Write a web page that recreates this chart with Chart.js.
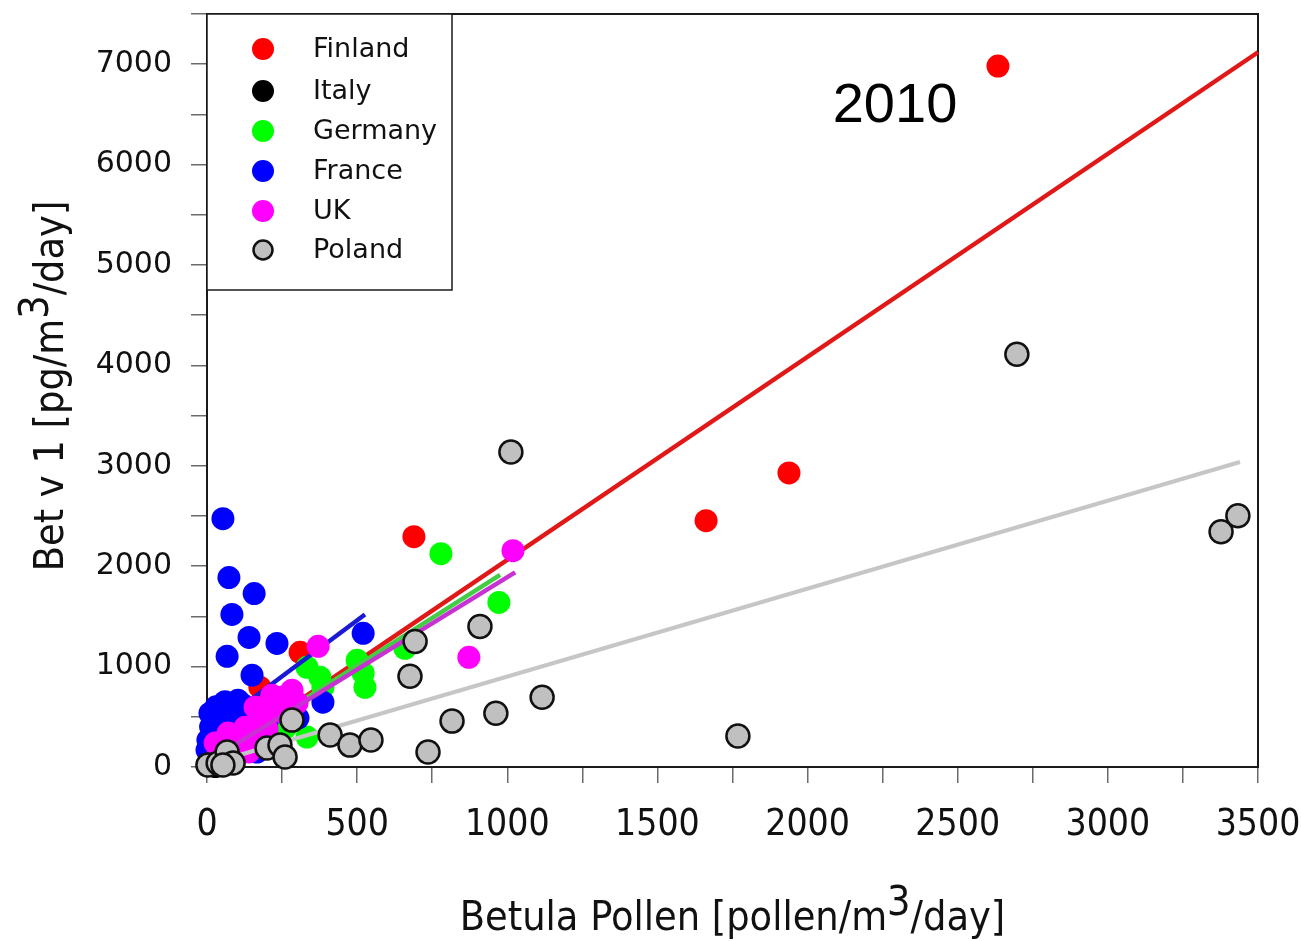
<!DOCTYPE html>
<html>
<head>
<meta charset="utf-8">
<script src="https://cdn.jsdelivr.net/npm/chart.js@4.4.1/dist/chart.umd.min.js"></script>
<style>
  html, body { margin: 0; padding: 0; background: #ffffff; }
  #wrap { width: 1301px; height: 941px; }
</style>
</head>
<body>
<div id="wrap"><canvas id="chart" width="1301" height="941"></canvas></div>
<script>
// Betula pollen vs. Bet v 1 allergen, 2010 season, by country
const finlandPollen = [2634, 1938, 1662, 689, 310, 176, 190, 110, 60, 20];
const finlandBetv1  = [6981, 2929, 2453, 2294, 1142, 795, 520, 330, 150, 50];

const italyPollen = [5, 18, 35, 12, 50, 28];
const italyBetv1  = [15, 40, 20, 60, 30, 5];

const germanyPollen = [779, 972, 500, 520, 526, 333, 376, 386, 659, 333, 260, 200, 230, 120, 60, 30];
const germanyBetv1  = [2125, 1639, 1063, 934, 794, 993, 894, 794, 1182, 298, 387, 250, 420, 180, 90, 40];

const francePollen = [53, 73, 157, 83, 140, 233, 67, 150, 520, 386, 43, 103, 160, 70, 27, 127, 3, 0, 166, 303,
                      10, 120, 180, 90, 40, 20, 260, 30, 60, 100, 150, 200, 50, 110, 140, 170, 80, 30, 12];
const franceBetv1  = [2473, 1887, 1728, 1519, 1291, 1231, 1102, 914, 1331, 645, 566, 665, 566, 497, 437, 437, 268, 169, 149, 487,
                      536, 620, 520, 350, 200, 100, 600, 600, 650, 560, 500, 450, 350, 300, 250, 180, 120, 50, 400];

const ukPollen = [1019, 872, 370, 283, 216, 160, 183, 70, 127, 27, 103, 230, 90, 50, 10, 140, 40, 60, 150, 200, 250, 300, 255];
const ukBetv1  = [2155, 1092, 1202, 765, 715, 596, 497, 338, 397, 238, 268, 600, 200, 120, 30, 150, 150, 250, 300, 380, 550, 640, 700];

const polandPollen = [3, 37, 67, 87, 53, 200, 243, 260, 283, 410, 476, 546, 736, 816, 962, 1116, 676, 693, 909, 1012, 1768, 2697, 3377, 3433];
const polandBetv1  = [20, 40, 149, 40, 20, 189, 218, 99, 467, 318, 218, 268, 149, 457, 536, 695, 904, 1251, 1400, 3138, 308, 4111, 2344, 2502];

// regression line end points per country
const finlandFitX = [10, 3500],  finlandFitY = [62, 7119];
const germanyFitX = [40, 976],   germanyFitY = [136, 1914];
const franceFitX  = [140, 526],  franceFitY  = [658, 1519];
const ukFitX      = [30, 1026],  ukFitY      = [105, 1938];
const polandFitX  = [0, 3440],   polandFitY  = [25, 3038];

const countries = ['Finland', 'Italy', 'Germany', 'France', 'UK', 'Poland'];
const yearLabel = '2010';

const xTitle = ['Betula Pollen [pollen/m', '3', '/day]'];
const yTitle = ['Bet v 1 [pg/m', '3', '/day]'];

const pairs = (xs, ys) => xs.map((x, i) => ({ x: x, y: ys[i] }));

function pointSet(label, xs, ys, fill, border, bw, order) {
  return {
    label: label,
    data: pairs(xs, ys),
    backgroundColor: fill,
    borderColor: border,
    borderWidth: bw,
    pointRadius: 11.5,
    pointHoverRadius: 11.5,
    showLine: false,
    clip: false,
    order: order
  };
}
function fitSet(xs, ys, color, width, order) {
  return {
    label: '',
    isFit: true,
    data: pairs(xs, ys),
    borderColor: color,
    backgroundColor: color,
    borderWidth: width,
    pointRadius: 0,
    showLine: true,
    fill: false,
    clip: false,
    order: order
  };
}

// higher order is painted first: each country's markers, then its fit line
const datasets = [
  pointSet(countries[0], finlandPollen, finlandBetv1, '#ff0000', '#ff0000', 0, 11),
  pointSet(countries[1], italyPollen, italyBetv1, '#000000', '#000000', 0, 9),
  pointSet(countries[2], germanyPollen, germanyBetv1, '#00ff00', '#00ff00', 0, 8),
  pointSet(countries[3], francePollen, franceBetv1, '#0000ff', '#0000ff', 0, 6),
  pointSet(countries[4], ukPollen, ukBetv1, '#ff00ff', '#ff00ff', 0, 4),
  pointSet(countries[5], polandPollen, polandBetv1, '#c0c0c0', '#111111', 2.5, 1),
  fitSet(finlandFitX, finlandFitY, '#e01818', 4.5, 10),
  fitSet(germanyFitX, germanyFitY, '#44cc44', 4.5, 7),
  fitSet(franceFitX, franceFitY, '#1a1ad6', 4.5, 5),
  fitSet(ukFitX, ukFitY, '#c832d2', 4.5, 3),
  fitSet(polandFitX, polandFitY, '#c6c6c6', 4, 2)
];

// frame round the plot area, drawn beneath the markers
const framePlugin = {
  id: 'frame',
  beforeDatasetsDraw(chart) {
    const a = chart.chartArea, ctx = chart.ctx;
    ctx.save();
    ctx.strokeStyle = '#1a1a1a';
    ctx.lineWidth = 2;
    ctx.strokeRect(a.left, a.top, a.right - a.left, a.bottom - a.top);
    ctx.restore();
  }
};

// axis titles with a raised "3", legend box and year label
const textPlugin = {
  id: 'texts',
  afterDraw(chart) {
    const ctx = chart.ctx, a = chart.chartArea;
    ctx.save();
    ctx.fillStyle = '#111111';
    ctx.textBaseline = 'alphabetic';
    ctx.textAlign = 'left';

    const titleFont = '41px "DejaVu Sans Condensed", "DejaVu Sans"';
    function supText(parts, cx, baseline, raise) {
      ctx.font = titleFont;
      const w0 = ctx.measureText(parts[0]).width;
      const w1 = ctx.measureText(parts[1]).width;
      const w2 = ctx.measureText(parts[2]).width;
      let x = cx - (w0 + w1 + w2) / 2;
      ctx.fillText(parts[0], x, baseline);
      ctx.fillText(parts[1], x + w0, baseline - raise);
      ctx.fillText(parts[2], x + w0 + w1, baseline);
    }
    supText(xTitle, (a.left + a.right) / 2, 930, 15);

    ctx.save();
    ctx.translate(63, 386);
    ctx.rotate(-Math.PI / 2);
    supText(yTitle, 0, 0, 15);
    ctx.restore();

    // legend
    const lx = a.left, ly = a.top, lw = 245, lh = 276;
    ctx.fillStyle = '#ffffff';
    ctx.fillRect(lx, ly, lw, lh);
    ctx.strokeStyle = '#1a1a1a';
    ctx.lineWidth = 1.5;
    ctx.strokeRect(lx, ly, lw, lh);
    const rows = [49, 91, 131, 171, 211, 250];
    const pts = chart.data.datasets.filter(d => !d.isFit);
    ctx.font = '27px "DejaVu Sans"';
    ctx.textBaseline = 'middle';
    pts.forEach((d, i) => {
      const y = rows[i];
      ctx.beginPath();
      ctx.arc(263, y, d.borderWidth > 0 ? 9.5 : 11, 0, Math.PI * 2);
      ctx.fillStyle = d.backgroundColor;
      ctx.fill();
      if (d.borderWidth > 0) {
        ctx.lineWidth = 2.5;
        ctx.strokeStyle = d.borderColor;
        ctx.stroke();
      }
      ctx.fillStyle = '#111111';
      ctx.fillText(d.label, 313, y + 1);
    });

    // year
    ctx.font = '56px "Liberation Sans", Arial, sans-serif';
    ctx.textAlign = 'center';
    ctx.textBaseline = 'alphabetic';
    ctx.fillStyle = '#000000';
    ctx.fillText(yearLabel, 895, 122);
    ctx.restore();
  }
};

new Chart(document.getElementById('chart'), {
  type: 'scatter',
  data: { datasets: datasets },
  options: {
    responsive: false,
    animation: false,
    events: [],
    layout: { padding: { left: 0, top: 11, right: 43, bottom: 0 } },
    plugins: {
      legend: { display: false },
      tooltip: { enabled: false },
      title: { display: false }
    },
    scales: {
      x: {
        type: 'linear',
        min: 0,
        max: 3500,
        border: { display: false },
        grid: { drawOnChartArea: false, drawTicks: true, tickLength: 16, tickColor: '#6a6a6a', lineWidth: 1.5 },
        ticks: {
          stepSize: 250,
          autoSkip: false,
          maxRotation: 0,
          padding: 20,
          color: '#111111',
          font: { family: '"Liberation Sans Narrow", "DejaVu Sans Condensed", sans-serif', size: 37 },
          callback: v => (v % 500 === 0 ? String(v) : '')
        },
        afterFit(scale) {
          scale.height = 174;
          scale.paddingLeft = 0;
          scale.paddingRight = 0;
        }
      },
      y: {
        type: 'linear',
        min: 0,
        max: 7500,
        border: { display: false },
        grid: { drawOnChartArea: false, drawTicks: true, tickLength: 16, tickColor: '#6a6a6a', lineWidth: 1.5 },
        ticks: {
          stepSize: 500,
          autoSkip: false,
          padding: 19,
          color: '#111111',
          font: { family: '"DejaVu Sans", sans-serif', size: 30 },
          callback: v => (v % 1000 === 0 ? String(v) : '')
        },
        afterFit(scale) {
          scale.width = 207;
          scale.paddingTop = 0;
          scale.paddingBottom = 0;
        }
      }
    }
  },
  plugins: [framePlugin, textPlugin]
});
</script>
</body>
</html>
